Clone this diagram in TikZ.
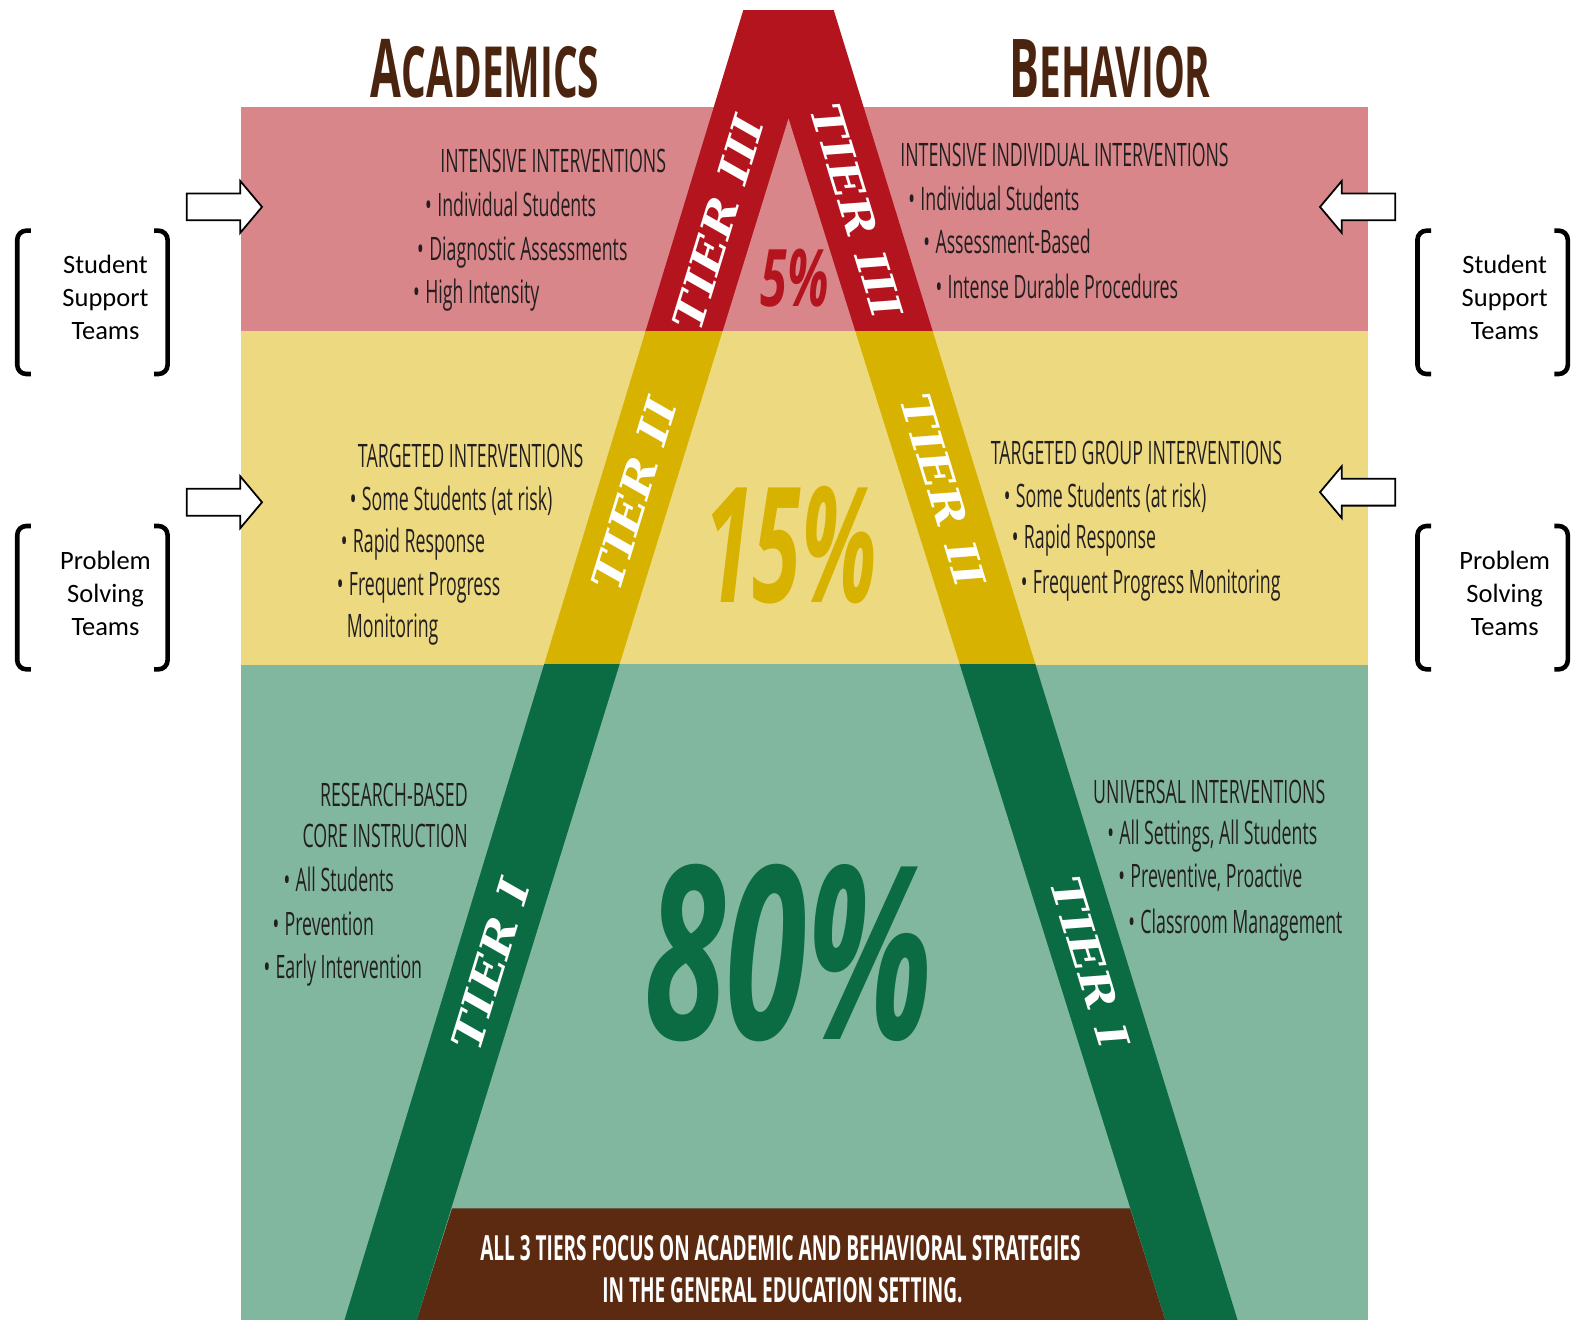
\documentclass[tikz,border=0pt]{standalone}
\usepackage{fontspec}
\usetikzlibrary{shapes.arrows}

\newfontfamily\condfont[FakeStretch=0.55]{Open Sans}
\newfontfamily\pctfont[FakeStretch=0.61]{Open Sans}
\newfontfamily\teamfont{Carlito}
\newfontfamily\tierfont[FakeStretch=1.15]{DejaVu Serif}

\definecolor{bandred}{HTML}{D9868A}
\definecolor{bandyellow}{HTML}{EDDA80}
\definecolor{bandgreen}{HTML}{82B79F}
\definecolor{tierred}{HTML}{B3141E}
\definecolor{tieryellow}{HTML}{D8B200}
\definecolor{tiergreen}{HTML}{0B6B43}
\definecolor{boxbrown}{HTML}{5B2A10}
\definecolor{headbrown}{HTML}{4B2410}
\definecolor{txtdark}{HTML}{231F20}

\newcommand{\teambrackets}[1]{%
  \draw[brk] ([xshift=0.27cm]#1.north west) -- (#1.north west) -- (#1.south west) -- ([xshift=0.27cm]#1.south west);
  \draw[brk] ([xshift=-0.27cm]#1.north east) -- (#1.north east) -- (#1.south east) -- ([xshift=-0.27cm]#1.south east);}

\begin{document}
\begin{tikzpicture}
    [
        x=0.02cm, y=-0.02cm,
        item/.style = {anchor=base west, inner sep=0pt, text=txtdark, font=\condfont\fontsize{18.3}{22}\selectfont},
        itemr/.style = {item, anchor=base east},
        tierlabel/.style = {text=white, inner sep=0pt, font=\tierfont\bfseries\itshape\fontsize{24}{24}\selectfont},
        pct/.style = {anchor=base, inner sep=0pt},
        head/.style = {anchor=base, inner sep=0pt, text=headbrown, font=\condfont\bfseries},
        foot/.style = {anchor=base, inner sep=0pt, text=white, font=\condfont\bfseries\fontsize{19.6}{24}\selectfont},
        blockarrow/.style = {draw=black, fill=white, line width=1pt, shape=single arrow, minimum height=1.5cm, minimum width=1cm, single arrow head extend=0.25cm, single arrow tip angle=100, inner sep=0.25cm},
        teamframe/.style = {minimum width=2.98cm, minimum height=2.84cm, inner sep=0pt},
        teamtext/.style = {align=center, inner sep=0pt, font=\teamfont\fontsize{15}{18.8}\selectfont},
        brk/.style = {line width=2.6pt, rounded corners=0.18cm},
    ]

    \useasboundingbox (0,0) rectangle (1568,1314);

    % pyramid corners
    \coordinate (otl) at (740,10);
    \coordinate (otr) at (830,10);
    \coordinate (obl) at (343,1314);
    \coordinate (obr) at (1232,1314);
    \coordinate (iap) at (785,118);
    \coordinate (ibl) at (415,1314);
    \coordinate (ibr) at (1160,1314);

    % bands
    \fill[bandred] (240,107) rectangle (1362,330);
    \fill[bandyellow] (240,330) rectangle (1362,662);
    \fill[bandgreen] (240,662) rectangle (1362,1314);

    % tier stripes
    \begin{scope}
        \clip (0,0) rectangle (1568,330);
        \fill[tierred] (otl) -- (otr) -- (obr) -- (obl) -- cycle;
        \fill[bandred] (iap) -- (ibr) -- (ibl) -- cycle;
    \end{scope}
    \begin{scope}
        \clip (0,330) rectangle (1568,662);
        \fill[tieryellow] (otl) -- (otr) -- (obr) -- (obl) -- cycle;
        \fill[bandyellow] (iap) -- (ibr) -- (ibl) -- cycle;
    \end{scope}
    \begin{scope}
        \clip (0,662) rectangle (1568,1314);
        \fill[tiergreen] (otl) -- (otr) -- (obr) -- (obl) -- cycle;
        \fill[bandgreen] (iap) -- (ibr) -- (ibl) -- cycle;
    \end{scope}
    \fill[boxbrown] (450,1203) -- (1125,1203) -- (ibr) -- (ibl) -- cycle;

    % headings
    \node[head] (acad) at (483,97) {{\fontsize{46}{46}\selectfont A}{\fontsize{40}{40}\selectfont CADEMICS}};
    \node[head] (behav) at (1105,97) {{\fontsize{46}{46}\selectfont B}{\fontsize{40}{40}\selectfont EHAVIOR}};

    % tier labels
    \node[tierlabel, rotate=73] (t3l) at (715,222) {TIER III};
    \node[tierlabel, rotate=-73] (t3r) at (853,210) {TIER III};
    \node[tierlabel, rotate=73] (t2l) at (631,492) {TIER II};
    \node[tierlabel, rotate=-73] (t2r) at (939,488) {TIER II};
    \node[tierlabel, rotate=73] (t1l) at (488,960) {TIER I};
    \node[tierlabel, rotate=-73] (t1r) at (1085,958) {TIER I};

    % percentages
    \node[pct, text=tierred, font=\pctfont\bfseries\itshape\fontsize{45}{45}\selectfont] (p5) at (791,305) {5\%};
    \node[pct, text=tieryellow, font=\condfont\bfseries\itshape\fontsize{91}{91}\selectfont] (p15) at (787,600) {15\%};
    \node[pct, text=tiergreen, font=\pctfont\bfseries\itshape\fontsize{137}{137}\selectfont] (p80) at (785,1035) {80\%};

    % tier III text
    \node[item] (a3h) at (438,172) {INTENSIVE INTERVENTIONS};
    \node[item] (a3a) at (423,216) {•\,Individual Students};
    \node[item] (a3b) at (415,259) {•\,Diagnostic Assessments};
    \node[item] (a3c) at (411,302) {•\,High Intensity};
    \node[item] (b3h) at (896,166) {INTENSIVE INDIVIDUAL INTERVENTIONS};
    \node[item] (b3a) at (904,210) {•\,Individual Students};
    \node[item] (b3b) at (919,252) {•\,Assessment-Based};
    \node[item] (b3c) at (931,297) {•\,Intense Durable Procedures};

    % tier II text
    \node[item] (a2h) at (356,465) {TARGETED INTERVENTIONS};
    \node[item] (a2a) at (348,508) {•\,Some Students (at risk)};
    \node[item] (a2b) at (339,550) {•\,Rapid Response};
    \node[item] (a2c) at (335,593) {•\,Frequent Progress};
    \node[item] (a2d) at (345,635) {Monitoring};
    \node[item] (b2h) at (986,462) {TARGETED GROUP INTERVENTIONS};
    \node[item] (b2a) at (999,505) {•\,Some Students (at risk)};
    \node[item] (b2b) at (1007,546) {•\,Rapid Response};
    \node[item] (b2c) at (1016,591) {•\,Frequent Progress Monitoring};

    % tier I text
    \node[itemr] (a1h) at (466,803) {RESEARCH-BASED};
    \node[itemr] (a1i) at (466,844) {CORE INSTRUCTION};
    \node[item] (a1a) at (282,888) {•\,All Students};
    \node[item] (a1b) at (271,931) {•\,Prevention};
    \node[item] (a1c) at (262,974) {•\,Early Intervention};
    \node[item] (b1h) at (1088,800) {UNIVERSAL INTERVENTIONS};
    \node[item] (b1a) at (1102,841) {•\,All Settings, All Students};
    \node[item] (b1b) at (1113,884) {•\,Preventive, Proactive};
    \node[item] (b1c) at (1123,929) {•\,Classroom Management};

    % bottom box
    \node[foot] (f1) at (777,1255) {ALL 3 TIERS FOCUS ON ACADEMIC AND BEHAVIORAL STRATEGIES};
    \node[foot] (f2) at (779,1297) {IN THE GENERAL EDUCATION SETTING.};

    % arrows
    \node[blockarrow, anchor=tip] (arL1) at (262,206) {};
    \node[blockarrow, anchor=tip] (arL2) at (262,500) {};
    \node[blockarrow, shape border rotate=180, anchor=tip] (arR1) at (1313,206) {};
    \node[blockarrow, shape border rotate=180, anchor=tip] (arR2) at (1313,490) {};

    % team brackets
    \node[teamframe] (sstL) at (92,301) {};
    \node[teamtext] (sstLt) at (105,296) {Student\\Support\\Teams};
    \node[teamframe] (pstL) at (92,595) {};
    \node[teamtext] (pstLt) at (105,591) {Problem\\Solving\\Teams};
    \node[teamframe] (sstR) at (1486,301) {};
    \node[teamtext] (sstRt) at (1498,296) {Student\\Support\\Teams};
    \node[teamframe] (pstR) at (1486,595) {};
    \node[teamtext] (pstRt) at (1498,591) {Problem\\Solving\\Teams};
    \teambrackets{sstL}
    \teambrackets{pstL}
    \teambrackets{sstR}
    \teambrackets{pstR}
\end{tikzpicture}
\end{document}
